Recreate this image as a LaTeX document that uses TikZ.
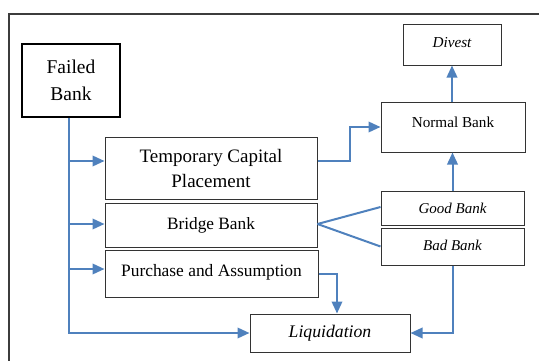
\documentclass[tikz,border=0pt]{standalone}
\usepackage{fontspec}
\setmainfont{Liberation Serif}
\usetikzlibrary{arrows.meta}
\definecolor{flow}{RGB}{79,129,189}
\definecolor{framegray}{RGB}{60,60,60}
\begin{document}
\begin{tikzpicture}[x=1pt,y=-1pt,
  box/.style={draw=black!80, line width=1pt, rectangle, inner sep=0pt, align=center},
  link/.style={draw=flow, line width=2pt},
  arr/.style={link, -{Triangle[length=12pt,width=10.5pt]}},
]
\useasboundingbox (0,0) rectangle (539,360);
\clip (0,0) rectangle (539,360);
% outer frame
\draw[framegray, line width=1.2pt] (9,380) -- (9,14) -- (560,14);

% boxes
\node[box, line width=1.3pt, draw=black, minimum width=98pt, minimum height=73pt,
  font=\fontsize{19.5}{27}\selectfont] (fb) at (71,80.5) {\raisebox{1.5pt}{Failed}\\\raisebox{1.5pt}{Bank}};
\node[box, minimum width=212pt, minimum height=62pt,
  font=\fontsize{19}{25}\selectfont] (tcp) at (211,168) {Temporary Capital\\Placement};
\node[box, minimum width=212pt, minimum height=44pt,
  font=\fontsize{17.3}{20}\selectfont] (bb) at (211,225) {\raisebox{2.5pt}{Bridge Bank}};
\node[box, minimum width=213pt, minimum height=47pt,
  font=\fontsize{17.4}{20}\selectfont] (pa) at (211.5,273.5) {\raisebox{6pt}{Purchase and Assumption}};
\node[box, minimum width=160pt, minimum height=38pt,
  font=\fontsize{17.7}{20}\selectfont\itshape] (liq) at (330,333) {\raisebox{1pt}{Liquidation}};
\node[box, minimum width=144pt, minimum height=50pt,
  font=\fontsize{15.2}{18}\selectfont] (nb) at (453,127) {\raisebox{9.5pt}{Normal Bank}};
\node[box, minimum width=98pt, minimum height=41pt,
  font=\fontsize{15.2}{18}\selectfont\itshape] (dv) at (452,44.5) {\raisebox{3.5pt}{Divest}};
\node[box, minimum width=143pt, minimum height=34pt,
  font=\fontsize{15}{18}\selectfont\itshape] (gb) at (452.5,208) {\raisebox{-0.5pt}{Good Bank}};
\node[box, minimum width=143pt, minimum height=37pt,
  font=\fontsize{15}{18}\selectfont\itshape] (bad) at (452.5,246.5) {\raisebox{3pt}{Bad Bank}};

% trunk from the failed bank
\coordinate (j1) at (69,161);
\coordinate (j2) at (69,224);
\coordinate (j3) at (69,269);
\draw[arr] ([xshift=-2pt]fb.south) |- (liq.west);
\draw[arr] (j1) -- (j1 -| tcp.west);
\draw[arr] (j2) -- (j2 -| bb.west);
\draw[arr] (j3) -- (j3 -| pa.west);

% onward paths
\draw[arr] (tcp.east |- j1) -- ++(32,0) |- (nb.west);
\draw[link] (bb.east |- j2) -- ([yshift=1pt]gb.west);
\draw[link] (bb.east |- j2) -- (bad.west);
\draw[arr] (gb.north) -- (gb.north |- nb.south);
\draw[arr] (nb.north -| dv.south) -- (dv.south);
\draw[arr] (pa.east) -| ([xshift=7pt]liq.north);
\draw[arr] (bad.south) |- (liq.east);
\end{tikzpicture}
\end{document}
